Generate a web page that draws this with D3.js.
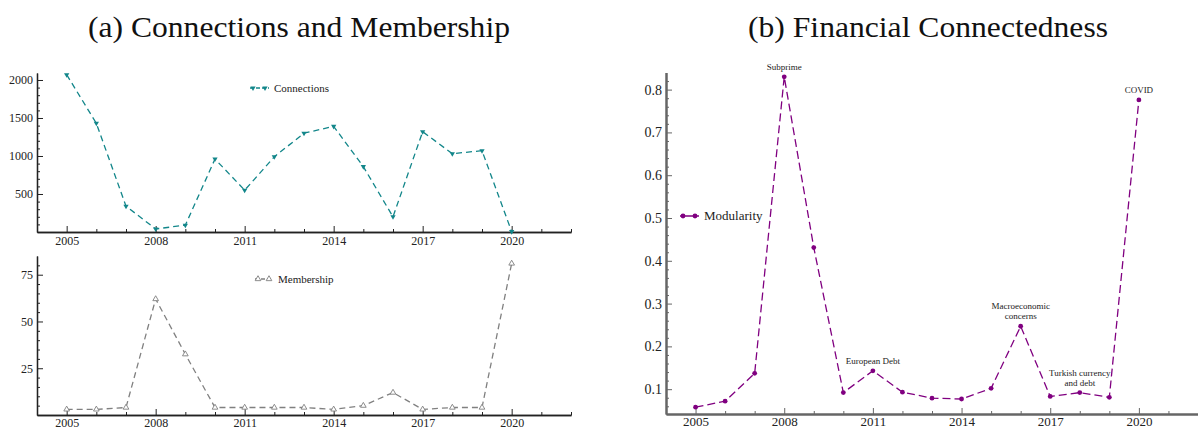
<!DOCTYPE html>
<html><head><meta charset="utf-8">
<script src="https://cdn.jsdelivr.net/npm/d3@7"></script>
<style>body{margin:0;background:#fff}svg{display:block}text{font-family:"Liberation Serif","DejaVu Serif",serif}</style>
</head><body>
<svg id="c" width="1198" height="432"></svg>
<script>
const years = [2005,2006,2007,2008,2009,2010,2011,2012,2013,2014,2015,2016,2017,2018,2019,2020];
const connections = [2070,1430,340,40,90,960,550,990,1300,1390,860,200,1320,1030,1070,5];
const membership = [3,3,4,62,32.5,4,4,4,4,3,5,12,3,4,4,81];
const modularity = [0.058,0.072,0.137,0.830,0.431,0.092,0.143,0.093,0.079,0.077,0.102,0.247,0.083,0.092,0.081,0.776];
const xTickLabels = [2005,2008,2011,2014,2017,2020];
const connTicks = [500,1000,1500,2000];
const memTicks = [25,50,75];
const modTicks = [0.1,0.2,0.3,0.4,0.5,0.6,0.7,0.8];
const events = [
  {year:2008, lines:["Subprime"]},
  {year:2011, lines:["European Debt"]},
  {year:2016, lines:["Macroeconomic","concerns"]},
  {year:2018, lines:["Turkish currency","and debt"]},
  {year:2020, lines:["COVID"]}
];

const svg = d3.select("#c");
const serif = '"Liberation Serif", "DejaVu Serif", serif';

function txt(sel){ return sel.style("font-family", serif); }

// titles
txt(svg.append("text")).attr("x",299).attr("y",37).attr("text-anchor","middle")
  .attr("font-size",29).attr("fill","#111")
  .attr("textLength",422).attr("lengthAdjust","spacingAndGlyphs")
  .text("(a) Connections and Membership");
txt(svg.append("text")).attr("x",928).attr("y",37).attr("text-anchor","middle")
  .attr("font-size",29).attr("fill","#111")
  .attr("textLength",360).attr("lengthAdjust","spacingAndGlyphs")
  .text("(b) Financial Connectedness");

function panel(opt){
  const g = svg.append("g");
  const x = d3.scaleLinear().domain([2004,2022]).range(opt.xr);
  const y = d3.scaleLinear().domain(opt.yd).range(opt.yr);
  const ax = opt.axisColor;
  const minorYears = d3.range(2004,2023).filter(v=>!xTickLabels.includes(v));
  const gx = g.append("g").attr("transform",`translate(0,${opt.yr[0]})`);
  gx.call(d3.axisBottom(x).tickValues(minorYears).tickSizeInner(-3).tickSizeOuter(0).tickFormat(""));
  const gx2 = g.append("g").attr("transform",`translate(0,${opt.yr[0]})`);
  gx2.call(d3.axisBottom(x).tickValues(xTickLabels).tickSizeInner(-6).tickSizeOuter(0).tickPadding(opt.xpad).tickFormat(d3.format("d")));
  [gx,gx2].forEach(a=>{
    a.attr("font-family",null);
    a.select(".domain").attr("stroke",ax).attr("stroke-width",opt.axisW);
    a.selectAll(".tick line").attr("stroke",ax);
    a.selectAll("text").style("font-family",serif).attr("font-size",opt.xfs).attr("fill","#222");
  });
  const gy = g.append("g").attr("transform",`translate(${opt.xr[0]},0)`);
  gy.call(d3.axisLeft(y).tickValues(opt.minor).tickSizeInner(-3).tickSizeOuter(0).tickFormat(""));
  const gy2 = g.append("g").attr("transform",`translate(${opt.xr[0]},0)`);
  gy2.call(d3.axisLeft(y).tickValues(opt.major).tickSizeInner(-6).tickSizeOuter(0).tickPadding(4).tickFormat(opt.fmt));
  [gy,gy2].forEach(a=>{
    a.attr("font-family",null);
    a.select(".domain").attr("stroke",ax).attr("stroke-width",opt.axisW);
    a.selectAll(".tick line").attr("stroke",ax);
    a.selectAll("text").style("font-family",serif).attr("font-size",opt.yfs).attr("fill","#222");
  });
  return {g,x,y};
}

function series(p, vals, color, dash, marker){
  const line = d3.line().x((d,i)=>p.x(years[i])).y(d=>p.y(d));
  p.g.append("path").datum(vals).attr("d",line).attr("fill","none")
    .attr("stroke",color).attr("stroke-width",1.3).attr("stroke-dasharray",dash);
  vals.forEach((v,i)=>marker(p.g, p.x(years[i]), p.y(v)));
}

const arrowMark = color => (g,cx,cy)=> g.append("path")
  .attr("d",d3.symbol(d3.symbolTriangle,12)()).attr("transform",`translate(${cx},${cy}) rotate(180)`).attr("fill",color);
const openTri = color => (g,cx,cy)=> g.append("path")
  .attr("d",d3.symbol(d3.symbolTriangle,14)()).attr("transform",`translate(${cx},${cy})`).attr("fill","#fff").attr("stroke",color).attr("stroke-width",0.9);
const dot = color => (g,cx,cy)=> g.append("circle").attr("cx",cx).attr("cy",cy).attr("r",2.4).attr("fill",color);

function legend(g, x0, yy, len, color, dash, marker, label, fs){
  g.append("line").attr("x1",x0).attr("x2",x0+len).attr("y1",yy).attr("y2",yy)
    .attr("stroke",color).attr("stroke-width",1.3).attr("stroke-dasharray",dash);
  marker(g,x0+3,yy); marker(g,x0+len-4,yy);
  txt(g.append("text")).attr("x",x0+len+5).attr("y",yy).attr("dy","0.33em")
    .attr("font-size",fs).attr("fill","#222").text(label);
}

const teal = "#12868a";
const pa = panel({xr:[37,571], yr:[232,73], yd:[0,2092], major:connTicks,
  minor:d3.range(100,2100,100).filter(v=>v%500!==0), fmt:d3.format("d"),
  axisColor:"#222", axisW:1.3, xfs:12, yfs:12, xpad:4});
series(pa, connections, teal, "6,4", arrowMark(teal));
legend(pa.g, 250, 88, 19, teal, "4,2", arrowMark(teal), "Connections", 11);

const gray = "#808080";
const pb = panel({xr:[37,571], yr:[415,256], yd:[0,85], major:memTicks,
  minor:d3.range(5,85,5).filter(v=>v%25!==0), fmt:d3.format("d"),
  axisColor:"#222", axisW:1.3, xfs:12, yfs:12, xpad:3});
series(pb, membership, gray, "6,4", openTri(gray));
legend(pb.g, 255, 279, 18, gray, "4,2", openTri(gray), "Membership", 11);

const purple = "#800080";
const pc = panel({xr:[666,1198], yr:[414,72.5], yd:[0.042,0.84], major:modTicks,
  minor:d3.range(0.06,0.84,0.02).filter(v=>Math.abs(v*10-Math.round(v*10))>0.01), fmt:d3.format(".1f"),
  axisColor:"#666", axisW:2, xfs:13, yfs:14, xpad:3});
series(pc, modularity, purple, "8,4", dot(purple));
legend(pc.g, 680, 216, 19, purple, "10,0", dot(purple), "Modularity", 13);

events.forEach(e=>{
  const i = years.indexOf(e.year);
  const cx = pc.x(e.year), cy = pc.y(modularity[i]);
  const n = e.lines.length;
  const t = txt(pc.g.append("text")).attr("text-anchor","middle")
    .attr("font-size",9).attr("fill","#222");
  e.lines.forEach((l,k)=>{
    t.append("tspan").attr("x",cx).attr("y",cy-7-(n-1-k)*10).text(l);
  });
});
</script>
</body></html>
